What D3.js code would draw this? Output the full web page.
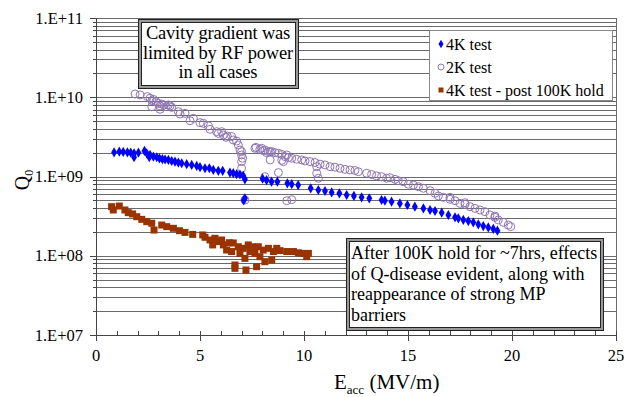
<!DOCTYPE html>
<html>
<head>
<meta charset="utf-8">
<script src="https://cdn.jsdelivr.net/npm/d3@7"></script>
<style>
  body { margin: 0; background: #fff; }
</style>
</head>
<body>
<script>
// E_acc (MV/m) and Q0
var test4K_E = [0.87,1.12,1.31,1.51,1.67,1.83,1.83,2.04,2.33,2.44,2.56,2.6,2.76,2.92,3.05,3.19,3.32,3.48,3.64,3.8,
  3.96,4.12,4.36,4.6,4.84,5.0,5.24,5.45,5.64,5.88,6.09,6.44,6.6,6.76,6.92,7.08,7.16,7.1,7.16,
  8.01,8.2,8.44,8.72,9.2,9.41,9.72,10.32,10.69,11.01,11.33,11.7,12.05,12.4,12.77,13.14,13.73,13.89,14.21,
  14.61,14.97,15.33,15.74,16.06,16.3,16.62,16.94,17.26,17.42,17.66,17.9,18.14,18.38,18.62,18.86,19.1,19.3];
var test4K_Q = [2.02e9,2.06e9,2.04e9,2.02e9,2.0e9,1.96e9,1.75e9,2.0e9,2.1e9,1.96e9,1.75e9,1.87e9,1.78e9,1.75e9,1.69e9,1.66e9,1.64e9,1.62e9,1.57e9,1.54e9,
  1.5e9,1.47e9,1.43e9,1.4e9,1.36e9,1.31e9,1.27e9,1.27e9,1.21e9,1.18e9,1.18e9,1.12e9,1.1e9,1.07e9,1.06e9,1.02e9,9.2e8,5.0e8,5.3e8,
  9.4e8,9.0e8,8.6e8,8.6e8,8.2e8,8.0e8,7.8e8,7.1e8,6.76e8,6.56e8,6.3e8,6.14e8,5.84e8,5.68e8,5.46e8,5.3e8,5.05e8,4.95e8,4.81e8,
  4.58e8,4.37e8,4.16e8,3.96e8,3.78e8,3.67e8,3.5e8,3.27e8,3.05e8,2.97e8,2.83e8,2.74e8,2.64e8,2.49e8,2.37e8,2.28e8,2.18e8,2.07e8];

var test2K_E = [1.88,2.12,2.47,2.6,2.68,2.76,2.88,2.99,3.08,3.16,3.27,3.37,3.48,3.56,3.64,3.08,2.68,
  3.96,4.04,4.28,4.52,4.68,5.0,5.16,5.4,5.48,5.8,5.88,6.04,6.12,6.25,6.31,6.52,6.6,6.76,6.84,6.92,7.0,7.0,7.05,7.0,7.0,
  7.64,7.69,7.88,7.96,8.04,8.12,8.2,8.29,8.37,8.45,8.61,8.77,8.93,9.09,9.25,9.41,9.65,9.89,10.05,10.29,10.53,10.77,
  11.01,11.25,11.49,11.73,11.97,12.21,12.45,12.61,13.01,13.25,13.49,13.73,13.97,14.13,14.38,14.53,14.77,15.02,15.26,
  15.5,15.74,16.06,16.3,16.46,16.7,17.02,17.26,17.5,17.74,17.98,18.22,18.46,18.7,18.94,19.18,19.34,19.58,19.82,19.94,
  8.37,8.93,8.12,8.77,10.61,10.61,10.69,9.01,9.17,9.17,9.41,7.16,17.02,17.74,19.18];
var test2K_Q = [1.1e10,1.07e10,1.02e10,9.7e9,9.06e9,9.4e9,8.8e9,8.4e9,7.76e9,8.2e9,7.98e9,7.6e9,8.0e9,7.76e9,7.46e9,7.05e9,7.6e9,
  6.58e9,6.15e9,6.27e9,5.06e9,5.42e9,4.78e9,4.69e9,4.34e9,3.94e9,3.68e9,3.5e9,3.68e9,3.34e9,3.12e9,3.24e9,3.2e9,2.89e9,2.8e9,2.5e9,2.16e9,2.06e9,1.87e9,1.7e9,1.54e9,1.27e9,
  2.27e9,2.33e9,2.2e9,2.27e9,2.12e9,2.16e9,2.0e9,2.06e9,2.06e9,2.06e9,2.0e9,1.96e9,1.9e9,1.78e9,1.73e9,1.7e9,1.65e9,1.62e9,1.57e9,1.54e9,1.5e9,1.43e9,
  1.4e9,1.33e9,1.31e9,1.27e9,1.23e9,1.21e9,1.19e9,1.15e9,1.1e9,1.06e9,1.02e9,9.95e8,9.5e8,9.66e8,9.2e8,8.85e8,8.6e8,8.0e8,7.8e8,
  7.43e8,7.1e8,6.62e8,6.14e8,5.68e8,5.46e8,5.15e8,4.95e8,4.58e8,4.46e8,4.16e8,3.96e8,3.78e8,3.6e8,3.27e8,3.05e8,2.83e8,2.64e8,2.44e8,2.33e8,
  1.62e9,1.6e9,9.95e8,1.12e9,1.33e9,1.1e9,9.5e8,1.54e9,1.87e9,4.95e8,5.1e8,5.05e8,5.46e8,4.67e8,3.17e8];

var hold_E = [0.75,0.83,1.12,1.39,1.55,1.76,1.96,2.2,2.44,2.68,2.79,3.16,3.4,3.72,4.01,4.28,4.65,5.13,5.24,5.48,
  5.61,5.72,5.88,6.04,6.12,6.28,6.41,6.52,6.6,6.68,6.68,6.84,6.92,7.08,7.16,7.21,7.32,7.4,7.53,7.64,7.72,7.8,7.88,
  8.04,8.12,8.29,8.45,8.53,8.69,8.85,9.17,9.49,9.73,9.97,10.13,10.21];
var hold_Q = [4.16e8,3.78e8,4.24e8,3.78e8,3.5e8,3.37e8,3.11e8,2.88e8,2.69e8,2.57e8,2.11e8,2.44e8,2.33e8,2.22e8,2.07e8,1.97e8,1.86e8,1.83e8,1.71e8,1.58e8,
  1.37e8,1.66e8,1.51e8,1.58e8,1.37e8,1.18e8,1.46e8,1.13e8,1.45e8,7.64e7,6.94e7,1.3e8,1.07e8,1.24e8,9.27e7,6.61e7,1.37e8,1.13e8,1.3e8,1.07e8,7.28e7,1.3e8,9.73e7,
  1.18e8,8.41e7,1.24e8,8.84e7,1.13e8,1.24e8,1.16e8,1.13e8,1.13e8,1.09e8,1.07e8,9.73e7,1.07e8];

var xTicks = [0, 5, 10, 15, 20, 25];
var yTicks = [1e7, 1e8, 1e9, 1e10, 1e11];
var yTickLabels = ["1.E+07", "1.E+08", "1.E+09", "1.E+10", "1.E+11"];
var legendNames = ["4K test", "2K test", "4K test - post 100K hold"];
var noteTop = ["Cavity gradient was", "limited by RF power", "in all cases"];
var noteBottom = ["After 100K hold for ~7hrs, effects", "of Q-disease evident, along with", "reappearance of strong MP", "barriers"];

var W = 627, H = 397;
var margin = {left: 96, right: 616, top: 18, bottom: 335};

var svg = d3.select("body").append("svg")
  .attr("width", W)
  .attr("height", H)
  .attr("font-family", "'Liberation Serif', 'Times New Roman', serif");

var x = d3.scaleLinear().domain([0, 25]).range([margin.left, margin.right]);
var y = d3.scaleLog().domain([1e7, 1e11]).range([margin.bottom, margin.top]);

function py(v) { return Math.round(y(v)) + 0.5; }

// horizontal grid at every 1..9 x 10^n
var gridVals = [];
for (var e = 7; e < 11; e++) {
  for (var m = 1; m < 10; m++) gridVals.push(m * Math.pow(10, e));
}
gridVals.push(1e11);

svg.append("g").selectAll("line")
  .data(gridVals)
  .enter().append("line")
    .attr("x1", margin.left).attr("x2", margin.right)
    .attr("y1", py).attr("y2", py)
    .attr("stroke", "#6a6a6a")
    .attr("stroke-width", 1);

// right border
svg.append("line")
  .attr("x1", margin.right + 0.5).attr("x2", margin.right + 0.5)
  .attr("y1", margin.top).attr("y2", margin.bottom)
  .attr("stroke", "#6a6a6a");

// y axis
svg.append("line")
  .attr("x1", margin.left + 0.5).attr("x2", margin.left + 0.5)
  .attr("y1", margin.top).attr("y2", margin.bottom)
  .attr("stroke", "#444");

svg.append("g").selectAll("line")
  .data(gridVals)
  .enter().append("line")
    .attr("x1", function(d) { return yTicks.indexOf(d) >= 0 ? margin.left - 6 : margin.left - 3; })
    .attr("x2", margin.left)
    .attr("y1", py).attr("y2", py)
    .attr("stroke", "#444");

svg.append("g").selectAll("text")
  .data(yTicks)
  .enter().append("text")
    .attr("x", margin.left - 13)
    .attr("y", function(d) { return y(d) + 5.5; })
    .attr("text-anchor", "end")
    .style("font-size", "16.5px")
    .text(function(d, i) { return yTickLabels[i]; });

// x axis
svg.append("line")
  .attr("x1", margin.left).attr("x2", margin.right)
  .attr("y1", margin.bottom + 0.5).attr("y2", margin.bottom + 0.5)
  .attr("stroke", "#444");

var minorX = d3.range(0, 26);
svg.append("g").selectAll("line")
  .data(minorX)
  .enter().append("line")
    .attr("x1", function(d) { return Math.round(x(d)) + 0.5; })
    .attr("x2", function(d) { return Math.round(x(d)) + 0.5; })
    .attr("y1", margin.bottom - 4)
    .attr("y2", function(d) { return d % 5 === 0 ? margin.bottom + 6 : margin.bottom; })
    .attr("stroke", "#444");

svg.append("g").selectAll("text")
  .data(xTicks)
  .enter().append("text")
    .attr("x", function(d) { return x(d); })
    .attr("y", 361)
    .attr("text-anchor", "middle")
    .style("font-size", "16.5px")
    .text(function(d) { return d; });

// axis titles
var xt = svg.append("text")
  .attr("x", 334)
  .attr("y", 389)
  .style("font-size", "21px");
xt.append("tspan").text("E");
xt.append("tspan").attr("dy", 5).style("font-size", "13px").text("acc");
xt.append("tspan").attr("dy", -5).text(" (MV/m)");

var yt = svg.append("text")
  .attr("transform", "translate(29,180) rotate(-90)")
  .attr("text-anchor", "middle")
  .style("font-size", "20px");
yt.append("tspan").text("Q");
yt.append("tspan").attr("dy", 4).style("font-size", "12px").text("0");

// data
var diamond = d3.symbol().type(d3.symbolDiamond).size(30);
var square = d3.symbol().type(d3.symbolSquare).size(49);

svg.append("g").selectAll("circle")
  .data(test2K_E)
  .enter().append("circle")
    .attr("cx", function(d) { return x(d); })
    .attr("cy", function(d, i) { return y(test2K_Q[i]); })
    .attr("r", 4)
    .attr("fill", "none")
    .attr("stroke", "#8f75b5")
    .attr("stroke-width", 1);

svg.append("g").selectAll("path")
  .data(test4K_E)
  .enter().append("path")
    .attr("d", diamond)
    .attr("transform", function(d, i) { return "translate(" + x(d) + "," + y(test4K_Q[i]) + ")"; })
    .attr("fill", "#0000ff");

svg.append("g").selectAll("path")
  .data(hold_E)
  .enter().append("path")
    .attr("d", square)
    .attr("transform", function(d, i) { return "translate(" + x(d) + "," + y(hold_Q[i]) + ")"; })
    .attr("fill", "#993300");

// double-bordered note boxes
function noteBox(x0, y0, w, h) {
  svg.append("rect").attr("x", x0 + 0.5).attr("y", y0 + 0.5).attr("width", w).attr("height", h)
    .attr("fill", "#fff").attr("stroke", "#222");
  svg.append("rect").attr("x", x0 + 2).attr("y", y0 + 2).attr("width", w - 3).attr("height", h - 3)
    .attr("fill", "none").attr("stroke", "#999").attr("stroke-width", 2);
  svg.append("rect").attr("x", x0 + 3.5).attr("y", y0 + 3.5).attr("width", w - 6).attr("height", h - 6)
    .attr("fill", "none").attr("stroke", "#222");
}

noteBox(138, 19, 160, 69);
svg.append("g").selectAll("text")
  .data(noteTop)
  .enter().append("text")
    .attr("x", 218)
    .attr("y", function(d, i) { return 39 + i * 19.5; })
    .attr("text-anchor", "middle")
    .style("font-size", "18.5px")
    .style("letter-spacing", "-0.2px")
    .text(function(d) { return d; });

noteBox(346, 238, 257, 92);
svg.append("g").selectAll("text")
  .data(noteBottom)
  .enter().append("text")
    .attr("x", 351)
    .attr("y", function(d, i) { return 259 + i * 20.5; })
    .style("font-size", "18px")
    .text(function(d) { return d; });

// legend
svg.append("rect")
  .attr("x", 429.5).attr("y", 30.5).attr("width", 183).attr("height", 70)
  .attr("fill", "#fff").attr("stroke", "#888");

var lg = svg.append("g").selectAll("g")
  .data(legendNames)
  .enter().append("g")
    .attr("transform", function(d, i) { return "translate(441," + (44 + i * 23) + ")"; });

lg.each(function(d, i) {
  var g = d3.select(this);
  if (i === 0) g.append("path").attr("d", d3.symbol().type(d3.symbolDiamond).size(22)).attr("fill", "#0000ff");
  if (i === 1) g.append("circle").attr("r", 3).attr("fill", "none").attr("stroke", "#8f75b5");
  if (i === 2) g.append("path").attr("d", d3.symbol().type(d3.symbolSquare).size(25)).attr("fill", "#993300");
  g.append("text").attr("x", 5).attr("y", 5.5).style("font-size", "16px").text(d);
});
</script>
</body>
</html>
